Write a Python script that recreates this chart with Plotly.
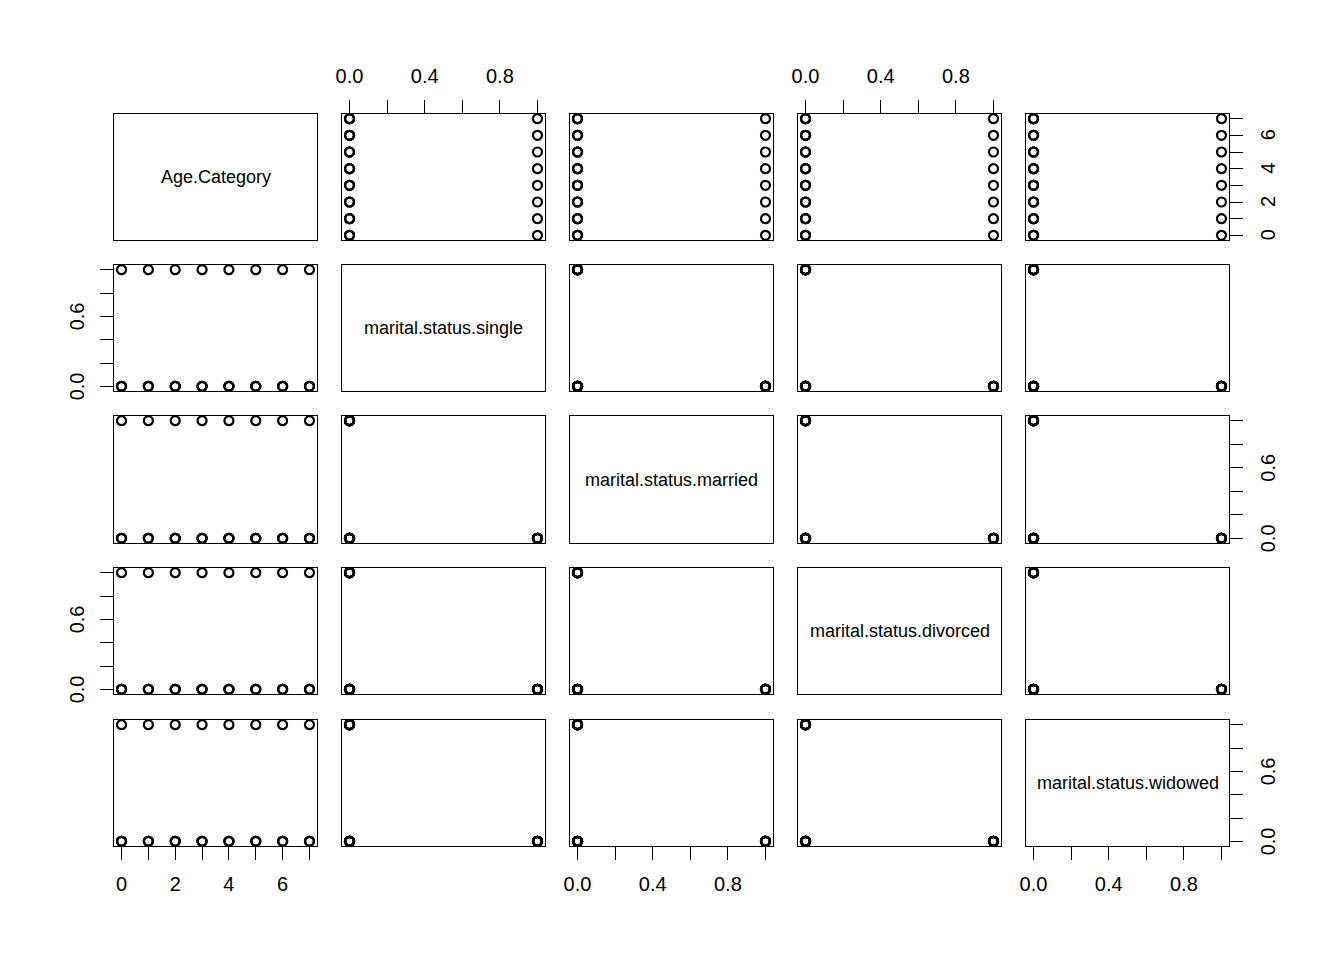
import plotly.graph_objects as go

var_names = ["Age.Category", "marital.status.single", "marital.status.married",
             "marital.status.divorced", "marital.status.widowed"]

age_category = [0, 0, 0, 0, 1, 1, 1, 1, 2, 2, 2, 2, 3, 3, 3, 3,
                4, 4, 4, 4, 5, 5, 5, 5, 6, 6, 6, 6, 7, 7, 7, 7]
single = [1, 0, 0, 0, 1, 0, 0, 0, 1, 0, 0, 0, 1, 0, 0, 0,
          1, 0, 0, 0, 1, 0, 0, 0, 1, 0, 0, 0, 1, 0, 0, 0]
married = [0, 1, 0, 0, 0, 1, 0, 0, 0, 1, 0, 0, 0, 1, 0, 0,
           0, 1, 0, 0, 0, 1, 0, 0, 0, 1, 0, 0, 0, 1, 0, 0]
divorced = [0, 0, 1, 0, 0, 0, 1, 0, 0, 0, 1, 0, 0, 0, 1, 0,
            0, 0, 1, 0, 0, 0, 1, 0, 0, 0, 1, 0, 0, 0, 1, 0]
widowed = [0, 0, 0, 1, 0, 0, 0, 1, 0, 0, 0, 1, 0, 0, 0, 1,
           0, 0, 0, 1, 0, 0, 0, 1, 0, 0, 0, 1, 0, 0, 0, 1]

columns = [age_category, single, married, divorced, widowed]

age_ticks = [0, 1, 2, 3, 4, 5, 6, 7]
age_ticktext = ["0", "", "2", "", "4", "", "6", ""]
bin_ticks = [0, 0.2, 0.4, 0.6, 0.8, 1.0]
bin_ticktext_x = ["0.0", "", "0.4", "", "0.8", ""]
bin_ticktext_y = ["0.0", "", "", "0.6", "", ""]

W, H = 1344, 960
col_px = [(114, 317), (342, 545), (570, 773), (798, 1001), (1026, 1229)]
row_px = [(114, 240), (265, 391), (416, 543), (568, 694), (720, 846)]
ylab_left_px, ylab_right_px = 77, 1268

def rng(vals):
    lo, hi = min(vals), max(vals)
    pad = 0.04 * (hi - lo)
    return [lo - pad, hi + pad]

fig = go.Figure()
layout = dict(width=W, height=H, margin=dict(l=0, r=0, t=0, b=0, pad=0),
              paper_bgcolor="white", plot_bgcolor="white", showlegend=False,
              font=dict(family="Liberation Sans, Arial, sans-serif", color="black"))
annotations = []

n = 5
for i in range(n):        # row
    for j in range(n):    # col
        k = i * n + j + 1
        xa = "xaxis" if k == 1 else f"xaxis{k}"
        ya = "yaxis" if k == 1 else f"yaxis{k}"
        xref = "x" if k == 1 else f"x{k}"
        yref = "y" if k == 1 else f"y{k}"
        x0, x1 = col_px[j]
        y0, y1 = row_px[i]
        xd = [x0 / W, x1 / W]
        yd = [1 - y1 / H, 1 - y0 / H]
        xr = rng(columns[j])
        yr = rng(columns[i])
        xax = dict(domain=xd, range=xr, anchor=yref, showgrid=False, zeroline=False,
                   showline=True, mirror=True, linecolor="black", linewidth=1.4,
                   showticklabels=False, ticks="", fixedrange=True, automargin=False)
        yax = dict(domain=yd, range=yr, anchor=xref, showgrid=False, zeroline=False,
                   showline=True, mirror=True, linecolor="black", linewidth=1.4,
                   showticklabels=False, ticks="", fixedrange=True, automargin=False)
        show_x = (i == 0 and j % 2 == 1) or (i == n - 1 and j % 2 == 0)
        if show_x:
            if j == 0:
                tv, tt = age_ticks, age_ticktext
            else:
                tv, tt = bin_ticks, bin_ticktext_x
            xax.update(ticks="outside", ticklen=13, tickwidth=1.2, tickcolor="black",
                       tickvals=tv, ticktext=tt, showticklabels=True,
                       tickfont=dict(size=20, color="black"),
                       ticklabelstandoff=9 if i == 0 else 7,
                       side="top" if i == 0 else "bottom")
        show_y = (j == 0 and i % 2 == 1) or (j == n - 1 and i % 2 == 0)
        if show_y:
            if i == 0:
                tv, tt = age_ticks, age_ticktext
            else:
                tv, tt = bin_ticks, bin_ticktext_y
            yax.update(ticks="outside", ticklen=13, tickwidth=1.2, tickcolor="black",
                       tickvals=tv, showticklabels=False,
                       side="left" if j == 0 else "right")
            lx = (ylab_left_px if j == 0 else ylab_right_px) / W
            for v, t in zip(tv, tt):
                if t:
                    annotations.append(dict(text=t, xref="paper", yref=yref, x=lx, y=v,
                                            xanchor="center", yanchor="middle",
                                            textangle=-90, showarrow=False,
                                            font=dict(size=20, color="black")))
        layout[xa] = xax
        layout[ya] = yax
        if i == j:
            fig.add_trace(go.Scatter(x=[None], y=[None], mode="markers",
                                     xaxis=xref, yaxis=yref, hoverinfo="skip"))
            annotations.append(dict(text=var_names[i], xref=f"{xref} domain",
                                    yref=f"{yref} domain", x=0.5, y=0.5,
                                    showarrow=False,
                                    font=dict(size=18, color="black")))
        else:
            fig.add_trace(go.Scatter(x=columns[j], y=columns[i], mode="markers",
                                     xaxis=xref, yaxis=yref, cliponaxis=False,
                                     marker=dict(symbol="circle-open", size=9, color="black",
                                                 line=dict(width=2.2, color="black")),
                                     hoverinfo="skip"))

layout["annotations"] = annotations
fig.update_layout(**layout)
fig.write_html("out.html")
